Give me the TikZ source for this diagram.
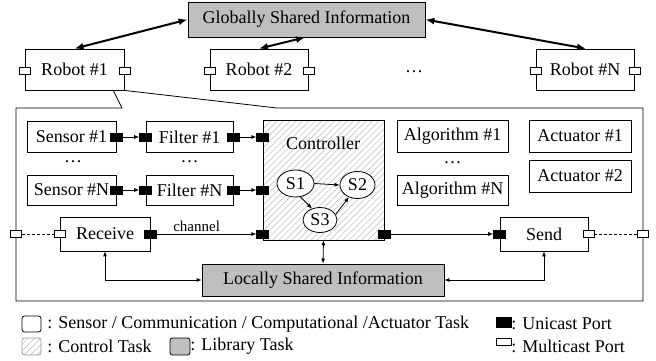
\documentclass[tikz,border=0pt]{standalone}
\usepackage{fontspec}
\setmainfont{Liberation Serif}
\usetikzlibrary{arrows.meta,patterns.meta,shapes.geometric}

\begin{document}
\begin{tikzpicture}[x=1pt,y=-1pt,
  font=\fontsize{18}{20}\selectfont,
  line width=0.8pt,
  task/.style={draw,fill=white,inner sep=0pt},
  lib/.style={draw,fill=gray!50,inner sep=0pt},
  ctrl/.style={draw,pattern={Lines[angle=45,distance=4.5pt,line width=0.5pt]},pattern color=gray!55,inner sep=0pt},
  uport/.style={draw,fill=black,minimum width=12pt,minimum height=8pt,inner sep=0pt},
  mport/.style={draw,fill=white,minimum width=11pt,minimum height=7pt,inner sep=0pt,line width=0.7pt},
  statenode/.style={draw,fill=white,ellipse,inner sep=0pt},
  arr/.style={-{Latex[length=5pt,width=4pt]}},
  darr/.style={{Latex[length=5pt,width=4pt]}-{Latex[length=5pt,width=4pt]}},
  bigarr/.style={line width=2pt,{Latex[length=9pt,width=7pt]}-{Latex[length=9pt,width=7pt]}},
  mlink/.style={dash pattern=on 3pt off 2pt,line width=0.6pt},
  dotsnode/.style={inner sep=0pt}
]
\useasboundingbox (0,0) rectangle (656,360);

% ---- robots and global information ----
\node[lib,minimum width=237,minimum height=35] (glob) at (306.5,19.5) {Globally Shared Information};
\node[task,minimum width=99,minimum height=41] (r1) at (74.5,69.5) {Robot \#1};
\node[task,minimum width=98,minimum height=41] (r2) at (259,69.5) {Robot \#2};
\node[task,minimum width=98,minimum height=41] (rn) at (585,69.5) {Robot \#N};
\node[dotsnode] (rdots) at (414,72) {\dots};
\foreach \r in {r1,r2,rn}{
  \node[mport] (\r w) at ([yshift=-1.5]\r.west) {};
  \node[mport] (\r e) at ([yshift=-1.5]\r.east) {};
}
\draw[bigarr] (glob.west) -- (r1.north);
\draw[bigarr] ([xshift=-1.5]glob.south) -- (r2.north);
\draw[bigarr] (glob.east) -- ([xshift=1]rn.north);

% ---- robot detail frame with pointer ----
\coordinate (pa) at (113,90);
\coordinate (pb) at (r1.south east);
\draw (pa) -- (122,108) -- (16,108) -- (16,301) -- (643,301) -- (643,108) -- (277,108) -- (pb);

% ---- sensors and filters ----
\node[task,minimum width=89,minimum height=31] (s1) at (71.5,137) {Sensor \#1};
\node[task,minimum width=89,minimum height=30] (sn) at (71.5,190) {Sensor \#N};
\node[task,minimum width=87,minimum height=31] (f1) at (189.5,137) {Filter \#1};
\node[task,minimum width=87,minimum height=30] (fn) at (189.5,190) {Filter \#N};
\node[dotsnode] at (73,162) {\dots};
\node[dotsnode] at (189.5,162) {\dots};

% ---- controller ----
\node[ctrl,minimum width=121,minimum height=120] (ctl) at (323.5,180) {};
\node at (323,143) {Controller};
\node[statenode,minimum width=37,minimum height=27] (st1) at (295.5,183.5) {S1};
\node[statenode,minimum width=35,minimum height=27] (st2) at (357.5,185) {S2};
\node[statenode,minimum width=34,minimum height=25] (st3) at (320,220) {S3};
\draw[arr] (st1.east) -- (st2.west);
\draw[arr] (st1.-70) -- (st3.125);
\draw[arr] (st3.20) -- (st2.-125);

% ---- algorithms and actuators ----
\node[task,minimum width=111,minimum height=32] (a1) at (452.5,136) {Algorithm \#1};
\node[task,minimum width=111,minimum height=30] (an) at (452.5,190) {Algorithm \#N};
\node[dotsnode] at (452.5,163) {\dots};
\node[task,minimum width=102,minimum height=32] (act1) at (580,136) {Actuator \#1};
\node[task,minimum width=102,minimum height=32] (act2) at (580,176) {Actuator \#2};

% ---- communication tasks ----
\node[task,minimum width=90,minimum height=34] (recv) at (105,234) {Receive};
\node[task,minimum width=88,minimum height=34] (send) at (544,234) {Send};
\node[lib,minimum width=242,minimum height=32] (loc) at (323,280) {Locally Shared Information};

% ---- ports ----
\node[uport] (s1p) at (s1.east) {};
\node[uport] (snp) at (sn.east) {};
\node[uport] (f1i) at (f1.west) {};
\node[uport] (fni) at (fn.west) {};
\node[uport] (f1o) at (f1.east) {};
\node[uport] (fno) at (fn.east) {};
\node[uport] (c1) at (ctl.west |- s1) {};
\node[uport] (c2) at (ctl.west |- sn) {};
\node[uport] (c3) at (ctl.west |- recv) {};
\node[uport] (co) at (ctl.east |- recv) {};
\node[uport] (recvo) at (recv.east) {};
\node[uport] (sendi) at (send.west) {};
\node[mport] (recvm) at (recv.west) {};
\node[mport] (sendm) at (send.east) {};
\node[mport] (outl) at (16,234) {};
\node[mport] (outr) at (643,234) {};

% ---- connectors ----
\draw[arr] (s1p) -- (f1i);
\draw[arr] (snp) -- (fni);
\draw[arr] (f1o) -- (c1);
\draw[arr] (fno) -- (c2);
\draw[arr] (recvo) -- node[above,pos=0.4,inner sep=1.5pt,font=\fontsize{15}{17}\selectfont] {channel} (c3);
\draw[arr] (co) -- (sendi);
\draw[mlink] (outl) -- (recvm);
\draw[mlink] (sendm) -- (outr);
\draw[darr] (recv.south) |- (loc.west);
\draw[darr] (send.south) |- (loc.east);
\draw[darr] (ctl.south) -- (loc.north);

% ---- legend ----
\node[draw,fill=white,rounded corners=2.5pt,minimum width=19,minimum height=16,inner sep=0pt] (lg1) at (31.5,324) {};
\node[anchor=west,inner sep=0pt] at (47,324) {: Sensor / Communication / Computational /Actuator Task};
\node[ctrl,draw=gray!80,rounded corners=2.5pt,minimum width=19,minimum height=17] (lg2) at (31.5,346.5) {};
\node[anchor=west,inner sep=0pt] at (47,346) {: Control Task};
\node[lib,rounded corners=2.5pt,minimum width=20,minimum height=17] (lg3) at (180,346.5) {};
\node[anchor=west,inner sep=0pt] at (190,346) {: Library Task};
\node[uport,minimum width=15,minimum height=10] (lg4) at (503.5,322) {};
\node[anchor=west,inner sep=0pt] at (511,324) {: Unicast Port};
\node[mport,minimum width=15,minimum height=7] (lg5) at (503.5,342) {};
\node[anchor=west,inner sep=0pt] at (511,346) {: Multicast Port};
\end{tikzpicture}
\end{document}
